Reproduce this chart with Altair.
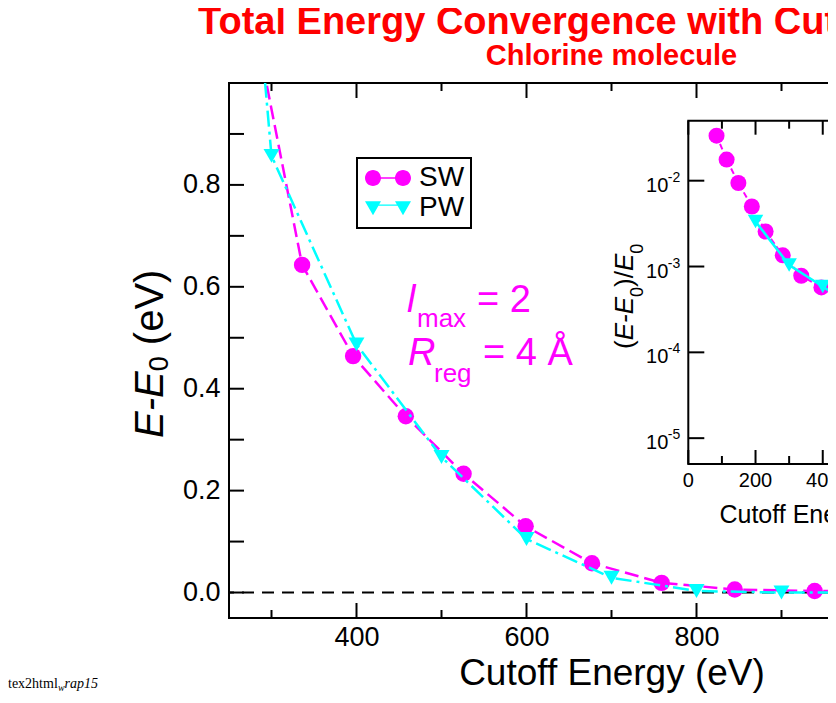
import altair as alt
import pandas as pd

# ---------------- data ----------------
# main panel: E - E0 (eV) versus cutoff energy (eV)
sw_energy = [281, 336, 396, 458, 526, 599, 677, 759, 845, 939, 1040]
sw_delta = [1.11, 0.643, 0.464, 0.346, 0.233, 0.130, 0.0575, 0.019, 0.006, 0.003, 0.002]
pw_energy = [200, 300, 400, 500, 600, 700, 800, 900, 1000]
pw_delta = [2.76, 0.857, 0.487, 0.266, 0.105, 0.029, 0.003, 0.0, 0.0]

# inset: (E - E0)/E0 on a log scale
sw_inset_energy = [84, 114, 149, 189, 230, 281, 336, 396, 458, 526, 599, 677]
sw_inset_rel = [3.35e-2, 1.76e-2, 9.4e-3, 5.0e-3, 2.56e-3, 1.35e-3, 7.8e-4,
                5.7e-4, 4.2e-4, 2.8e-4, 1.6e-4, 7.0e-5]
pw_inset_energy = [200, 300, 400, 500, 600, 700]
pw_inset_rel = [3.35e-3, 1.04e-3, 5.85e-4, 3.2e-4, 1.3e-4, 3.5e-5]

series_names = ["SW", "PW"]

x_domain = [250, 1150]
y_domain = [-0.05, 1.0]
x_major = [400, 600, 800]
x_ticks_major = [400, 600, 800, 1000]
x_minor = [300, 500, 700, 900, 1100]
y_major = [0.0, 0.2, 0.4, 0.6, 0.8]
y_minor = [0.1, 0.3, 0.5, 0.7, 0.9]

inset_x_domain = [0, 800]
inset_y_domain = [5e-6, 5e-2]
inset_x_major = [0, 200, 400, 600, 800]
inset_x_minor = [100, 300, 500, 700]
inset_y_ticks = [1e-5, 1e-4, 1e-3, 1e-2]
inset_y_exponents = ["-5", "-4", "-3", "-2"]

# ---------------- layout / style ----------------
SANS = "Liberation Sans"
SERIF = "Liberation Serif"
MAG = "#ff00ff"
CYAN = "#00ffff"
RED = "#ff0000"

W, H = 765, 535
PAD_L, PAD_T = 221, 75
PAD_R = 820 - PAD_L - W      # the right part of the figure is cut off, as in the reference
PAD_B = 687 - PAD_T - H
INSET_XR = [459.3, 728.2]
INSET_YR = [381, 37.7]

ARIAL = {" ": 278, "(": 333, ")": 333, "/": 278, "-": 333, "0": 556,
         "E": 667, "e": 556, "V": 667}


def tw(s, size):
    return sum(ARIAL[c] for c in s) * size / 1000.0


XS = alt.Scale(domain=x_domain, nice=False, zero=False)
YS = alt.Scale(domain=y_domain, nice=False, zero=False)
XAX = alt.Axis(values=x_major, format="d", labelFontSize=27, labelPadding=6,
               ticks=False, tickSize=0, domain=False, grid=False, labelFlush=False,
               labelFont=SANS, labelColor="black",
               title="Cutoff Energy (eV)", titleFont=SANS, titleFontSize=37,
               titleFontWeight="normal", titleColor="black",
               titleY=66, titleBaseline="alphabetic")
YAX = alt.Axis(values=y_major, format=".1f", labelFontSize=27, labelPadding=9,
               ticks=False, tickSize=0, domain=False, grid=False,
               labelFont=SANS, labelColor="black", title=None)


def mx(f):
    return alt.X(f, type="quantitative", scale=XS, axis=XAX)


def my(f):
    return alt.Y(f, type="quantitative", scale=YS, axis=YAX)


IXS = alt.Scale(domain=inset_x_domain, range=INSET_XR, nice=False, zero=False)
IYS = alt.Scale(type="log", domain=inset_y_domain, range=INSET_YR, nice=False)


def ix(f):
    return alt.X(f, type="quantitative", scale=IXS, axis=None)


def iy(f):
    return alt.Y(f, type="quantitative", scale=IYS, axis=None)


def text_layer(txt, x, y, size, color="black", italic=False, angle=0,
               align="left", font=SANS, weight="normal"):
    props = dict(align=align, baseline="alphabetic", fontSize=size, font=font,
                 fontStyle="italic" if italic else "normal", fontWeight=weight,
                 color=color)
    if angle:
        props["angle"] = angle
    return alt.Chart(pd.DataFrame({"t": [txt]})).mark_text(**props).encode(
        x=alt.value(x), y=alt.value(y), text="t:N")


def rotated(pieces, base_x, start_y, color="black"):
    out = []
    y = start_y
    for txt, size, italic, drop in pieces:
        lead = len(txt) - len(txt.lstrip(" "))
        y -= tw(" " * lead, size)
        core = txt.strip(" ")
        out.append(text_layer(core, base_x + drop, y, size, color=color,
                              italic=italic, angle=270))
        y -= tw(core, size)
    return out


# ---------------- main panel ----------------
sw_df = pd.DataFrame({"energy": sw_energy, "delta": sw_delta, "series": "SW"})
pw_df = pd.DataFrame({"energy": pw_energy, "delta": pw_delta, "series": "PW"})

zero_line = alt.Chart(pd.DataFrame({"y0": [0.0]})).mark_rule(
    color="black", strokeWidth=2, strokeDash=[12, 8]).encode(y=my("y0"))

sw_line = alt.Chart(sw_df).mark_line(color=MAG, strokeWidth=2.5, strokeDash=[14, 6],
                                     clip=True).encode(x=mx("energy"), y=my("delta"))
sw_pts = alt.Chart(sw_df).mark_point(shape="circle", filled=True, size=270, color=MAG,
                                     opacity=1, strokeWidth=0, clip=True).encode(
    x=mx("energy"), y=my("delta"))
pw_line = alt.Chart(pw_df).mark_line(color=CYAN, strokeWidth=2.5,
                                     strokeDash=[16, 5, 3, 5], clip=True).encode(
    x=mx("energy"), y=my("delta"))
pw_pts = alt.Chart(pw_df).mark_point(shape="triangle-down", filled=True, size=256,
                                     color=CYAN, opacity=1, strokeWidth=0,
                                     clip=True).encode(x=mx("energy"), y=my("delta"))

# inward ticks of the main frame
xt_major = pd.DataFrame({"v": x_ticks_major, "b": y_domain[0], "t": y_domain[1]})
xt_minor = pd.DataFrame({"v": x_minor, "b": y_domain[0], "t": y_domain[1]})
yt_all = pd.DataFrame({"v": y_major + y_minor, "l": x_domain[0], "r": x_domain[1]})
main_ticks = []
for df, ln in ((xt_major, 15), (xt_minor, 8)):
    main_ticks.append(alt.Chart(df).mark_rule(color="black", strokeWidth=2, y2Offset=-ln)
                      .encode(x=mx("v"), y=my("b"), y2="b"))
    main_ticks.append(alt.Chart(df).mark_rule(color="black", strokeWidth=2, y2Offset=ln)
                      .encode(x=mx("v"), y=my("t"), y2="t"))
main_ticks.append(alt.Chart(yt_all).mark_rule(color="black", strokeWidth=2, x2Offset=15)
                  .encode(y=my("v"), x=mx("l"), x2="l"))
main_ticks.append(alt.Chart(yt_all).mark_rule(color="black", strokeWidth=2, x2Offset=-15)
                  .encode(y=my("v"), x=mx("r"), x2="r"))

# legend (symbols: marker - line - marker)
SW_PATH = ("M-2.875,0A1,1,0,1,1,-0.875,0A1,1,0,1,1,-2.875,0Z"
           "M0.875,0A1,1,0,1,1,2.875,0A1,1,0,1,1,0.875,0Z"
           "M-0.9,-0.09L0.9,-0.09L0.9,0.09L-0.9,0.09Z")
PW_PATH = ("M-2.875,-0.85L-0.875,-0.85L-1.875,0.9Z"
           "M0.875,-0.85L2.875,-0.85L1.875,0.9Z"
           "M-1.4,-0.45L1.4,-0.45L1.4,-0.27L-1.4,-0.27Z")
LEG = alt.Legend(title=None, orient="none", legendX=128, legendY=75, padding=6,
                 strokeColor="black", fillColor="white", labelFontSize=28,
                 labelFont=SANS, labelColor="black", symbolSize=256,
                 symbolOffset=11, labelOffset=17, rowPadding=2, symbolOpacity=1,
                 symbolStrokeWidth=0)
legend_layer = alt.Chart(pd.concat([sw_df, pw_df])).mark_point(
    filled=True, opacity=0, size=256, clip=True).encode(
    x=mx("energy"), y=my("delta"),
    color=alt.Color("series:N", scale=alt.Scale(domain=series_names, range=[MAG, CYAN]),
                    legend=LEG),
    shape=alt.Shape("series:N", scale=alt.Scale(domain=series_names,
                                                range=[SW_PATH, PW_PATH]), legend=LEG),
)

# annotations
annot = [
    text_layer("l", 178, 229, 38, color=MAG, italic=True),
    text_layer("max", 188, 244, 26, color=MAG),
    text_layer("= 2", 248, 229, 38, color=MAG),
    text_layer("R", 179, 282, 38, color=MAG, italic=True),
    text_layer("reg", 205, 299, 26, color=MAG),
    text_layer("= 4 Å", 254, 282, 38, color=MAG),
]
# y-axis title  E-E0 (eV)
annot += rotated([("E-E", 40, True, 0), ("0", 27, False, 5), (" (eV)", 40, False, 0)],
                 163 - 229, 438 - 83)
# inset y title  (E-E0)/E0
annot += rotated([("(", 26, False, 0), ("E-E", 26, True, 0), ("0", 18, False, 10),
                  (")/", 26, False, 0), ("E", 26, True, 0), ("0", 18, False, 10)],
                 633 - 229, 349 - 83)
# latex2html leftover at the bottom-left corner
annot += [
    text_layer("tex2html", -221, 605, 14, font=SERIF),
    text_layer("w", -171, 608, 10, font=SERIF, italic=True),
    text_layer("rap15", -164.5, 605, 14, font=SERIF, italic=True),
]

main = alt.layer(zero_line, sw_line, sw_pts, pw_line, pw_pts, *main_ticks,
                 legend_layer, *annot)

# ---------------- inset ----------------
frame = alt.Chart(pd.DataFrame({"x0": [inset_x_domain[0]], "x1": [inset_x_domain[1]],
                                "y0": [inset_y_domain[0]], "y1": [inset_y_domain[1]]})
                  ).mark_rect(fill="white", stroke="black", strokeWidth=2).encode(
    x=ix("x0"), x2="x1", y=iy("y0"), y2="y1")

swi = pd.DataFrame({"energy": sw_inset_energy, "rel": sw_inset_rel})
pwi = pd.DataFrame({"energy": pw_inset_energy, "rel": pw_inset_rel})
swi_line = alt.Chart(swi).mark_line(color=MAG, strokeWidth=2, strokeDash=[6, 3]).encode(
    x=ix("energy"), y=iy("rel"))
swi_pts = alt.Chart(swi).mark_point(shape="circle", filled=True, size=256, color=MAG,
                                    opacity=1, strokeWidth=0).encode(
    x=ix("energy"), y=iy("rel"))
pwi_line = alt.Chart(pwi).mark_line(color=CYAN, strokeWidth=2.5).encode(
    x=ix("energy"), y=iy("rel"))
pwi_pts = alt.Chart(pwi).mark_point(shape="triangle-down", filled=True, size=240,
                                    color=CYAN, opacity=1, strokeWidth=0).encode(
    x=ix("energy"), y=iy("rel"))

ixt_major = pd.DataFrame({"v": inset_x_major, "b": inset_y_domain[0], "t": inset_y_domain[1]})
ixt_minor = pd.DataFrame({"v": inset_x_minor, "b": inset_y_domain[0], "t": inset_y_domain[1]})
iyt = pd.DataFrame({"v": inset_y_ticks, "l": inset_x_domain[0], "r": inset_x_domain[1],
                    "base": "10", "exp": inset_y_exponents})
inset_ticks = []
for df, ln in ((ixt_major, 14), (ixt_minor, 8)):
    inset_ticks.append(alt.Chart(df).mark_rule(color="black", strokeWidth=2, y2Offset=-ln)
                       .encode(x=ix("v"), y=iy("b"), y2="b"))
    inset_ticks.append(alt.Chart(df).mark_rule(color="black", strokeWidth=2, y2Offset=ln)
                       .encode(x=ix("v"), y=iy("t"), y2="t"))
inset_ticks.append(alt.Chart(iyt).mark_rule(color="black", strokeWidth=2, x2Offset=16)
                   .encode(y=iy("v"), x=ix("l"), x2="l"))
inset_ticks.append(alt.Chart(iyt).mark_rule(color="black", strokeWidth=2, x2Offset=-16)
                   .encode(y=iy("v"), x=ix("r"), x2="r"))

inset_labels = [
    alt.Chart(ixt_major).mark_text(align="center", baseline="alphabetic", fontSize=20,
                                   font=SANS, color="black", dy=23).encode(
        x=ix("v"), y=iy("b"), text=alt.Text("v:Q", format="d")),
    alt.Chart(iyt).mark_text(align="right", baseline="alphabetic", fontSize=20,
                             font=SANS, color="black", dx=-20, dy=11).encode(
        x=ix("l"), y=iy("v"), text="base:N"),
    alt.Chart(iyt).mark_text(align="right", baseline="alphabetic", fontSize=14,
                             font=SANS, color="black", dx=-8, dy=1).encode(
        x=ix("l"), y=iy("v"), text="exp:N"),
    alt.Chart(pd.DataFrame({"c": [sum(inset_x_domain) / 2], "b": [inset_y_domain[0]],
                            "t": ["Cutoff Energy (eV)"]})).mark_text(
        align="center", baseline="alphabetic", fontSize=25, font=SANS, color="black",
        dy=59).encode(x=ix("c"), y=iy("b"), text="t:N"),
]

inset = alt.layer(frame, swi_line, swi_pts, pwi_line, pwi_pts, *inset_ticks, *inset_labels)

chart = alt.layer(main, inset).resolve_scale(
    x="independent", y="independent"
).properties(
    width=W, height=H,
    padding={"left": PAD_L, "top": PAD_T, "right": PAD_R, "bottom": PAD_B},
    autosize=alt.AutoSizeParams(type="none"),
    title=alt.TitleParams("Total Energy Convergence with Cutoff Energy",
                          subtitle="Chlorine molecule", fontSize=38, subtitleFontSize=29,
                          font=SANS, subtitleFont=SANS, fontWeight="bold",
                          subtitleFontWeight="bold", color=RED, subtitleColor=RED,
                          anchor="middle", frame="group", offset=11, subtitlePadding=0),
).configure_view(stroke="black", strokeWidth=2).configure_legend(strokeWidth=2)

chart.save("out.html", embed_options={"renderer": "svg", "actions": False})
